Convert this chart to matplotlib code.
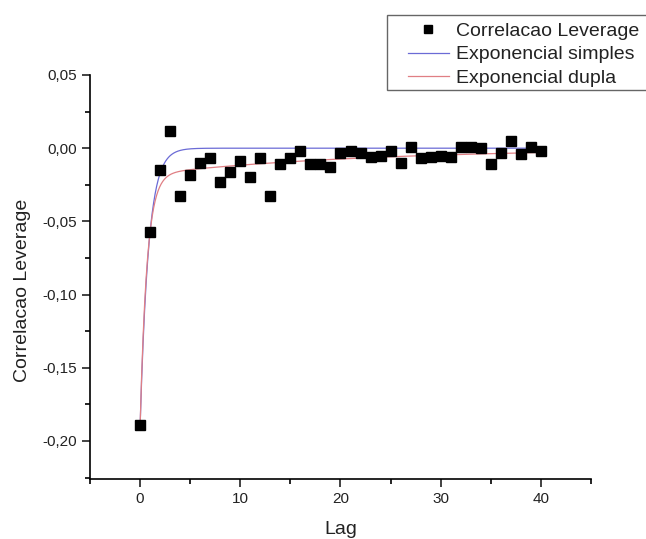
import matplotlib.pyplot as plt
import numpy as np
from matplotlib.patches import Rectangle
from matplotlib.ticker import FuncFormatter, MultipleLocator

plt.rcParams['font.family'] = ['Liberation Sans', 'DejaVu Sans']

# Dados
lag = list(range(41))
correlacao = [-0.189, -0.057, -0.015, 0.012, -0.033, -0.018, -0.010, -0.007, -0.023, -0.016,
              -0.009, -0.020, -0.007, -0.033, -0.011, -0.007, -0.002, -0.011, -0.011, -0.013,
              -0.003, -0.002, -0.003, -0.006, -0.005, -0.002, -0.010, 0.001, -0.007, -0.006,
              -0.005, -0.006, 0.001, 0.001, 0.000, -0.011, -0.003, 0.005, -0.004, 0.001, -0.002]

# Parametros dos ajustes
simples_A, simples_t = -0.19, 0.83
dupla_A1, dupla_t1 = -0.172, 0.68
dupla_A2, dupla_t2 = -0.0183, 22.0

x = np.linspace(0, 40, 800)
y_simples = simples_A * np.exp(-x / simples_t)
y_dupla = dupla_A1 * np.exp(-x / dupla_t1) + dupla_A2 * np.exp(-x / dupla_t2)

fig = plt.figure(figsize=(6.46, 5.39), dpi=100)
ax = fig.add_axes([90 / 646, 60 / 539, 501 / 646, 404 / 539])

ax.plot(lag, correlacao, 's', color='black', markersize=6.5, label='Correlacao Leverage', zorder=3)
ax.plot(x, y_simples, color='#6b6bd6', linewidth=0.9, label='Exponencial simples')
ax.plot(x, y_dupla, color='#e07f84', linewidth=0.9, label='Exponencial dupla')

ax.set_xlim(-5, 45)
ax.set_ylim(-0.226, 0.05)
ax.xaxis.set_major_locator(MultipleLocator(10))
ax.xaxis.set_minor_locator(MultipleLocator(5))
ax.yaxis.set_major_locator(MultipleLocator(0.05))
ax.yaxis.set_minor_locator(MultipleLocator(0.025))
ax.xaxis.set_major_formatter(FuncFormatter(lambda v, p: '%d' % v))
ax.yaxis.set_major_formatter(FuncFormatter(lambda v, p: ('%.2f' % v).replace('.', ',').replace('-0,00', '0,00')))

for s in ['top', 'right']:
    ax.spines[s].set_visible(False)
ax.spines['left'].set_linewidth(1.2)
ax.spines['bottom'].set_linewidth(1.2)
ax.tick_params(which='major', length=6, width=1.2, labelsize=11, color='#222222', labelcolor='#222222')
ax.tick_params(which='minor', length=3.5, width=1.2)

ax.set_xlabel('Lag', fontsize=14, labelpad=11, color='#222222')
ax.set_ylabel('Correlacao Leverage', fontsize=14, labelpad=8, color='#222222')
ax.yaxis.label.set_y(0.468)

# moldura da legenda (sai pela direita da figura)
fig.patches.append(Rectangle((387 / 646, 1 - 90 / 539), 0.5, 75 / 539, transform=fig.transFigure,
                             facecolor='white', edgecolor='#666666', linewidth=1.0, zorder=5))

h, l = ax.get_legend_handles_labels()
leg = fig.legend(h, l, loc='upper left', bbox_to_anchor=(408 / 646, 1 - 22 / 539), fontsize=14,
                 frameon=False, borderpad=0, labelspacing=0.32, handlelength=2.1,
                 handletextpad=0.35, borderaxespad=0, markerscale=0.8, labelcolor='#222222')
leg.set_zorder(6)

fig.savefig('out.png', dpi=100)
